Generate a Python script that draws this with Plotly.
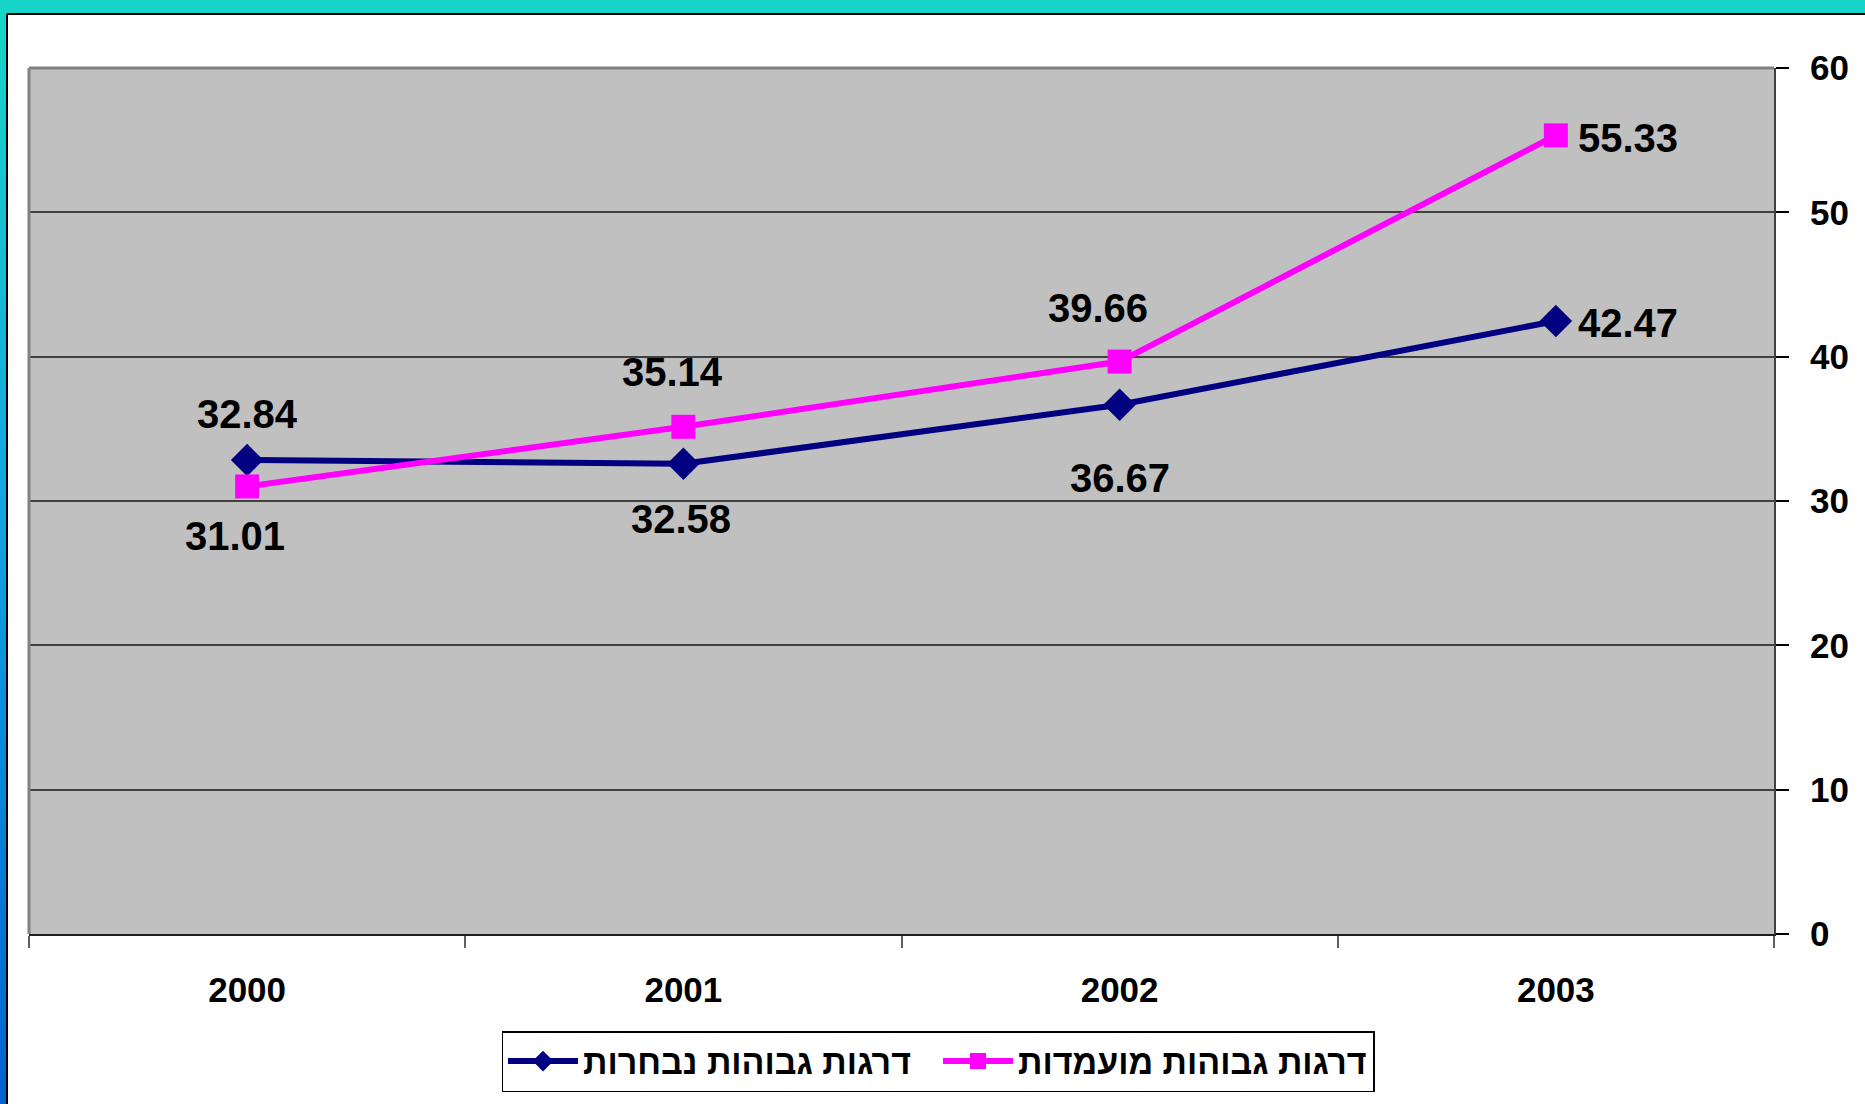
import plotly.graph_objects as go

# data
years = ["2000", "2001", "2002", "2003"]
elected = [32.84, 32.58, 36.67, 42.47]      # navy
candidates = [31.01, 35.14, 39.66, 55.33]   # magenta
name_elected = "דרגות גבוהות נבחרות"
name_candidates = "דרגות גבוהות מועמדות"
y_ticks = [0, 10, 20, 30, 40, 50, 60]

W, H = 1865, 1104
L, R, T, B = 29, 1774, 68, 934
FONT = "Liberation Sans, Arial, sans-serif"


def px(x):
    return (x - L) / (R - L)


def py(y):
    return (B - y) / (B - T)


fig = go.Figure()

fig.add_trace(go.Scatter(
    x=years, y=elected, name=name_elected, mode="lines+markers",
    line=dict(color="#000080", width=6),
    marker=dict(symbol="diamond", size=25, color="#000080"),
))
fig.add_trace(go.Scatter(
    x=years, y=candidates, name=name_candidates, mode="lines+markers",
    line=dict(color="#FF00FF", width=6),
    marker=dict(symbol="square", size=24, color="#FF00FF"),
))

# data labels: (xshift, yshift, xanchor) per point
elected_pos = [(0, 46, "center"), (-2, -55, "center"), (0, -73, "center"), (20, -2, "left")]
cand_pos = [(-12, -50, "center"), (-11, 55, "center"), (-22, 54, "center"), (20, -3, "left")]
for vals, pos in ((elected, elected_pos), (candidates, cand_pos)):
    for i, (v, (dx, dy, xa)) in enumerate(zip(vals, pos)):
        fig.add_annotation(
            x=i, y=v, text=f"{v:.2f}", showarrow=False,
            xshift=dx, yshift=dy, xanchor=xa,
            font=dict(family=FONT, size=40, color="black", weight="bold"),
        )

shapes = [
    # plot border (top/left gray)
    dict(type="line", xref="paper", yref="paper", x0=0, x1=1, y0=1, y1=1,
         line=dict(color="#808080", width=3)),
    dict(type="line", xref="paper", yref="paper", x0=0, x1=0, y0=0, y1=1,
         line=dict(color="#808080", width=3)),
    # top teal band
    dict(type="rect", xref="paper", yref="paper", x0=px(0), x1=px(W), y0=py(14), y1=py(0),
         fillcolor="#17D4C8", line=dict(width=0), layer="above"),
    # black frame lines
    dict(type="line", xref="paper", yref="paper", x0=px(7), x1=px(W), y0=py(14), y1=py(14),
         line=dict(color="black", width=2), layer="above"),
    dict(type="line", xref="paper", yref="paper", x0=px(7), x1=px(7), y0=py(14), y1=py(H),
         line=dict(color="black", width=2), layer="above"),
]

grad_svg = (
    "data:image/svg+xml;utf8,<svg xmlns='http://www.w3.org/2000/svg' width='10' height='100' "
    "preserveAspectRatio='none'><defs><linearGradient id='g' x1='0' y1='0' x2='0' y2='1'>"
    "<stop offset='0' stop-color='%2317D4C8'/><stop offset='0.45' stop-color='%2312A6E0'/>"
    "<stop offset='1' stop-color='%230062CE'/></linearGradient></defs>"
    "<rect width='10' height='100' fill='url(%23g)'/></svg>"
)

fig.update_layout(
    width=W, height=H,
    margin=dict(l=L, r=W - R, t=T, b=H - B),
    paper_bgcolor="white",
    plot_bgcolor="#C0C0C0",
    font=dict(family=FONT, color="black"),
    showlegend=True,
    shapes=shapes,
    images=[dict(source=grad_svg, xref="paper", yref="paper",
                 x=px(0), y=py(14), sizex=px(7) - px(0), sizey=py(14) - py(H),
                 sizing="stretch", xanchor="left", yanchor="top", layer="above")],
    legend=dict(
        orientation="h", xref="container", yref="container",
        x=938 / W, xanchor="center", y=12 / H, yanchor="bottom",
        bgcolor="white", bordercolor="black", borderwidth=1.5,
        font=dict(family=FONT, size=34, color="black", weight="bold"),
        itemwidth=70, tracegroupgap=0,
        entrywidth=350, entrywidthmode="pixels",
    ),
    xaxis=dict(
        type="category", range=[-0.5, 3.5],
        tickson="boundaries", ticks="outside", ticklen=12, tickwidth=2, tickcolor="#606060",
        showgrid=False, showline=True, linecolor="#202020", linewidth=2,
        tickfont=dict(family=FONT, size=35, weight="bold"),
        ticklabelstandoff=24,
    ),
    yaxis=dict(
        side="right", range=[0, 60], tickvals=y_ticks,
        ticks="outside", ticklen=13, tickwidth=2, tickcolor="black",
        showgrid=True, gridcolor="#404040", gridwidth=1.5, zeroline=False,
        showline=True, linecolor="#404040", linewidth=2,
        tickfont=dict(family=FONT, size=35, weight="bold"),
        ticklabelstandoff=14,
    ),
)

fig.write_html("out.html", config={"displayModeBar": False},
               post_script="document.body.style.margin='0';")
